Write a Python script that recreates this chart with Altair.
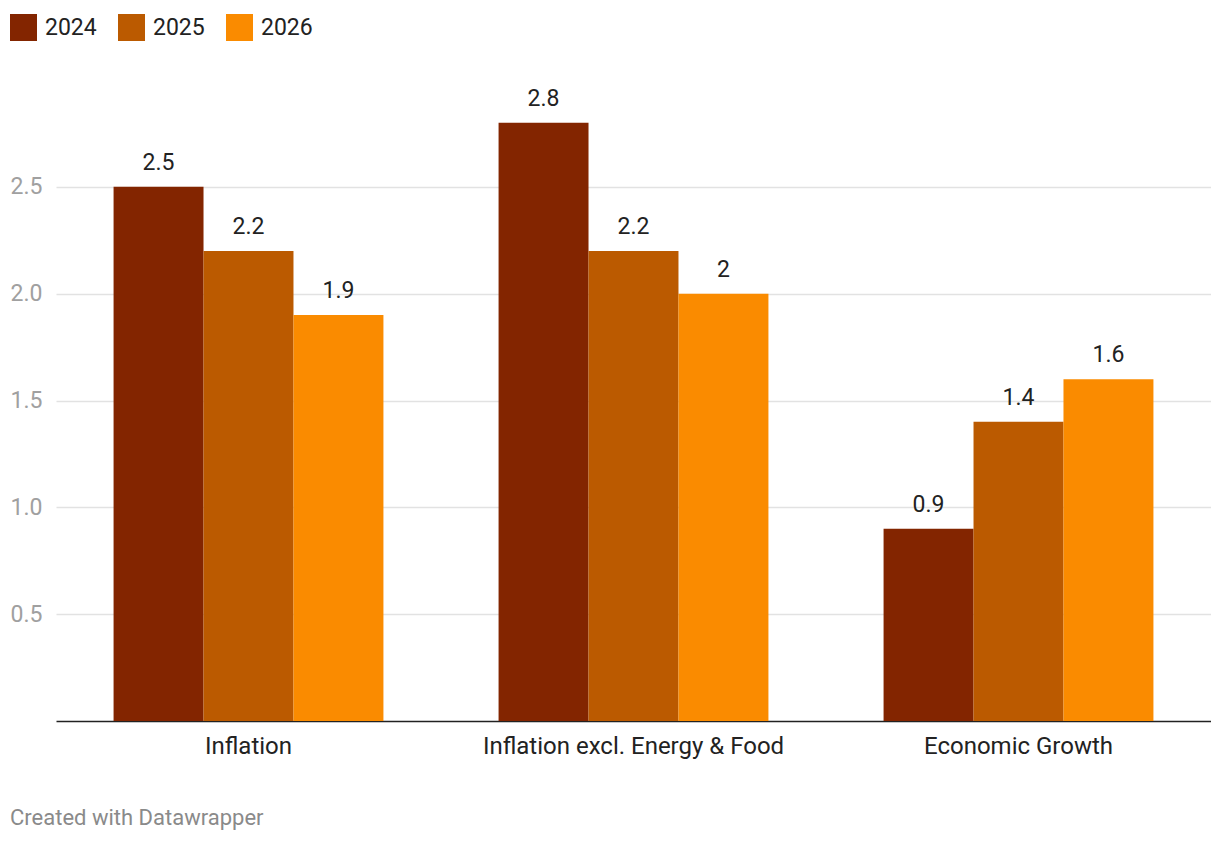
import altair as alt
import pandas as pd

categories = ["Inflation", "Inflation excl. Energy & Food", "Economic Growth"]
years = ["2024", "2025", "2026"]
values_2024 = [2.5, 2.8, 0.9]
values_2025 = [2.2, 2.2, 1.4]
values_2026 = [1.9, 2.0, 1.6]
colors = ["#832500", "#bb5a00", "#fa8b00"]

rows = []
for yr, vals in zip(years, [values_2024, values_2025, values_2026]):
    for c, v in zip(categories, vals):
        rows.append({"category": c, "year": yr, "value": v})
df = pd.DataFrame(rows)

FONT = "Roboto"

base = alt.Chart(df).encode(
    x=alt.X("category:N", sort=categories, title=None,
            scale=alt.Scale(paddingInner=0, paddingOuter=0),
            axis=alt.Axis(labelAngle=0, labelFontSize=24, labelColor="#222222",
                          labelFont=FONT, labelPadding=13, ticks=False, labelLimit=0,
                          domainColor="#222222", domainWidth=1.5, grid=False)),
    xOffset=alt.XOffset("year:N", sort=years,
                        scale=alt.Scale(paddingInner=0, paddingOuter=0.64)),
)

bars = base.mark_bar().encode(
    y=alt.Y("value:Q", title=None,
            scale=alt.Scale(domain=[0, 3], nice=False),
            axis=alt.Axis(values=[0.5, 1.0, 1.5, 2.0, 2.5], format=".1f",
                          labelFontSize=23, labelColor="#a0a0a0", labelFont=FONT,
                          labelAlign="left", labelPadding=46, ticks=False, tickSize=0,
                          domain=False, gridColor="#e2e2e2", gridWidth=1.5)),
    color=alt.Color("year:N", sort=years, title=None,
                    scale=alt.Scale(domain=years, range=colors),
                    legend=alt.Legend(orient="none", legendX=-46, legendY=-66,
                                      direction="horizontal", symbolType="square",
                                      symbolSize=729, symbolStrokeWidth=0,
                                      symbolOpacity=1,
                                      labelFontSize=23, labelFont=FONT,
                                      labelColor="#222222", labelOffset=8,
                                      columnPadding=21, padding=0)),
)

labels = base.mark_text(fontSize=23, font=FONT, color="#222222",
                        baseline="alphabetic", dy=-17).encode(
    y=alt.Y("value:Q"),
    text=alt.Text("value:Q"),
)

chart = alt.layer(bars, labels).properties(
    width=1155,
    height=641,
    padding={"left": 48, "top": 72, "right": 0, "bottom": 112},
    autosize=alt.AutoSizeParams(type="none"),
    title=alt.TitleParams("Created with Datawrapper", orient="bottom", anchor="start",
                          offset=50, fontSize=22, font=FONT,
                          color="#8a8a8a", fontWeight="normal"),
).configure_view(stroke=None).configure_axis(labelFont=FONT)

chart.save("out.html", embed_options={"renderer": "svg", "actions": False})
